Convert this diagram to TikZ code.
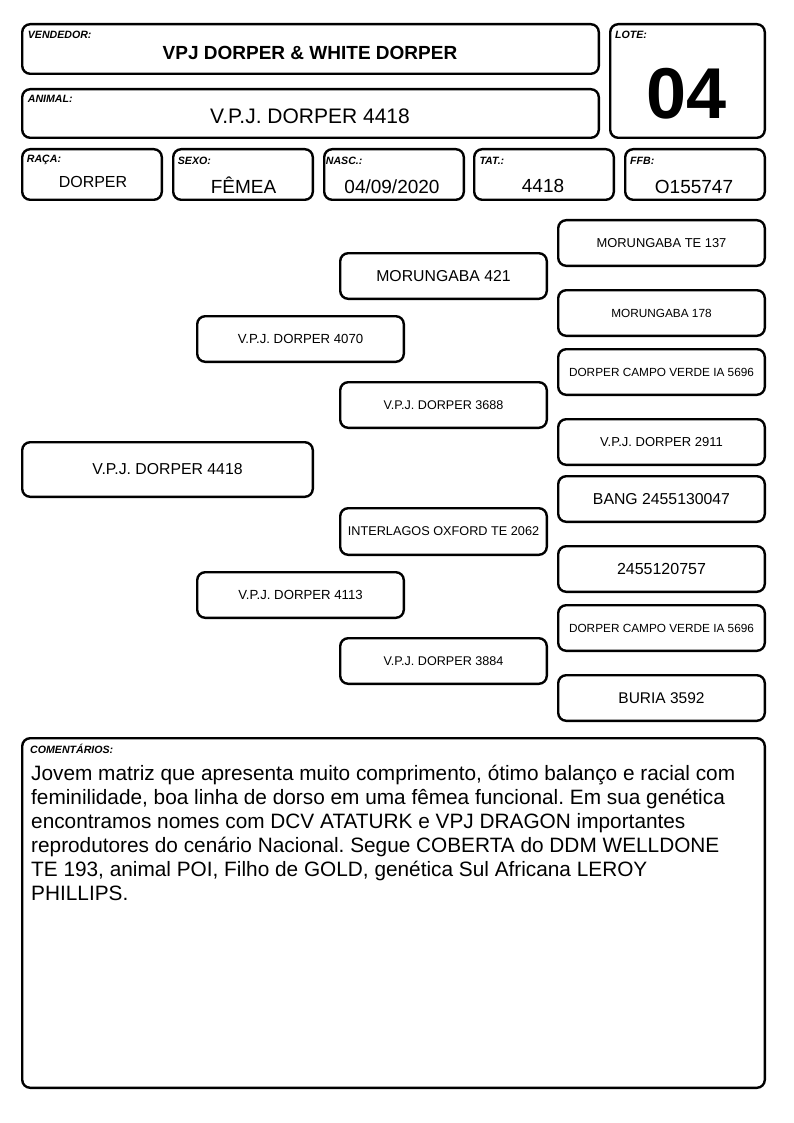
\documentclass[tikz,border=0pt]{standalone}
\usepackage{fontspec}
\setmainfont{Liberation Sans}
\frenchspacing
\newcommand\fs[1]{\fontsize{#1}{#1}\selectfont}
\newcommand\pbox[6]{\node[box, minimum width={(#4-#2-2.4)*1pt}, minimum height={(#5-#3-2.4)*1pt}, font=\fs{#6}] (#1) at ({(#2+#4)/2},{(#3+#5)/2})}
\tikzset{
  box/.style={draw, line width=2.4pt, rounded corners=8pt, inner sep=0pt, outer sep=0pt},
  lbl/.style={anchor=base west, inner sep=0pt, font=\bfseries\itshape\fs{10.6}},
  val/.style={anchor=base, inner sep=0pt},
}
\begin{document}
\begin{tikzpicture}[x=1pt,y=-1pt]
\useasboundingbox[fill=white] (0,0) rectangle (794,1123);
% header boxes
\pbox{vend}{21}{23}{600}{75}{10} {};
\pbox{anim}{21}{88}{600}{139}{10} {};
\pbox{lote}{609}{23}{766}{139}{10} {};
\pbox{raca}{21}{148}{163}{201}{10} {};
\pbox{sexo}{172}{148}{314}{201}{10} {};
\pbox{nasc}{323}{148}{465}{201}{10} {};
\pbox{tat}{473}{148}{615}{201}{10} {};
\pbox{ffb}{624}{148}{766}{201}{10} {};
% labels
\node[lbl] (lvend) at (27.7,39) {VENDEDOR:};
\node[lbl] (lanim) at (27.7,102.7) {ANIMAL:};
\node[lbl] (llote) at (615,39) {LOTE:};
\node[lbl] (lraca) at (26.7,163) {RAÇA:};
\node[lbl] (lsexo) at (177.7,165) {SEXO:};
\node[lbl] (lnasc) at (325.7,165) {NASC.:};
\node[lbl] (ltat) at (479.3,165) {TAT.:};
\node[lbl] (lffb) at (630,165) {FFB:};
% values
\node[val, font=\bfseries\fs{19}] (tvend) at (310,60) {VPJ DORPER \& WHITE DORPER};
\node[val, font=\fs{21}] (tanim) at (310,123.3) {V.P.J. DORPER 4418};
\node[val, font=\bfseries\fs{72}] (tlote) at (687,119) {04};
\node[val, font=\fs{16}] (traca) at (93,187.7) {DORPER};
\node[val, font=\fs{19}] (tsexo) at (243.5,193.3) {FÊMEA};
\node[val, font=\fs{19}] (tnasc) at (392,193.3) {04/09/2020};
\node[val, font=\fs{19}] (ttat) at (543,192.7) {4418};
\node[val, font=\fs{19}] (tffb) at (694,193.3) {O155747};
% pedigree
\pbox{p0}{21}{441}{314}{498}{15.8} {V.P.J. DORPER 4418};
\pbox{p1a}{196}{315}{405}{363}{13.2} {V.P.J. DORPER 4070};
\pbox{p1b}{196}{571}{405}{619}{13.2} {V.P.J. DORPER 4113};
\pbox{p2a}{339}{252}{548}{300}{15.8} {MORUNGABA 421};
\pbox{p2b}{339}{381}{548}{429}{12.6} {V.P.J. DORPER 3688};
\pbox{p2c}{339}{507}{548}{556}{12.7} {INTERLAGOS OXFORD TE 2062};
\pbox{p2d}{339}{637}{548}{685}{12.6} {V.P.J. DORPER 3884};
\pbox{p3a}{557}{219}{766}{267}{12.9} {MORUNGABA TE 137};
\pbox{p3b}{557}{289}{766}{337}{11.8} {MORUNGABA 178};
\pbox{p3c}{557}{348}{766}{396}{11.8} {DORPER CAMPO VERDE IA 5696};
\pbox{p3d}{557}{418}{766}{466}{13} {V.P.J. DORPER 2911};
\pbox{p3e}{557}{475}{766}{523}{15.8} {BANG 2455130047};
\pbox{p3f}{557}{545}{766}{593}{16} {2455120757};
\pbox{p3g}{557}{604}{766}{652}{11.8} {DORPER CAMPO VERDE IA 5696};
\pbox{p3h}{557}{674}{766}{722}{15.5} {BURIA 3592};
% comments
\pbox{com}{21}{737}{766}{1089}{10} {};
\node[lbl] (lcom) at (30,753.3) {COMENTÁRIOS:};
\begin{scope}[every node/.style={anchor=base west, inner sep=0pt, font=\fs{20.8}}]
\node (c1) at (31,780) {Jovem matriz que apresenta muito comprimento, ótimo balanço e racial com};
\node (c2) at (31,804) {feminilidade, boa linha de dorso em uma fêmea funcional. Em sua genética};
\node (c3) at (31,828) {encontramos nomes com DCV ATATURK e VPJ DRAGON importantes};
\node (c4) at (31,852) {reprodutores do cenário Nacional. Segue COBERTA do DDM WELLDONE};
\node (c5) at (31,876) {TE 193, animal POI, Filho de GOLD, genética Sul Africana LEROY};
\node (c6) at (31,900) {PHILLIPS.};
\end{scope}
\end{tikzpicture}
\end{document}
